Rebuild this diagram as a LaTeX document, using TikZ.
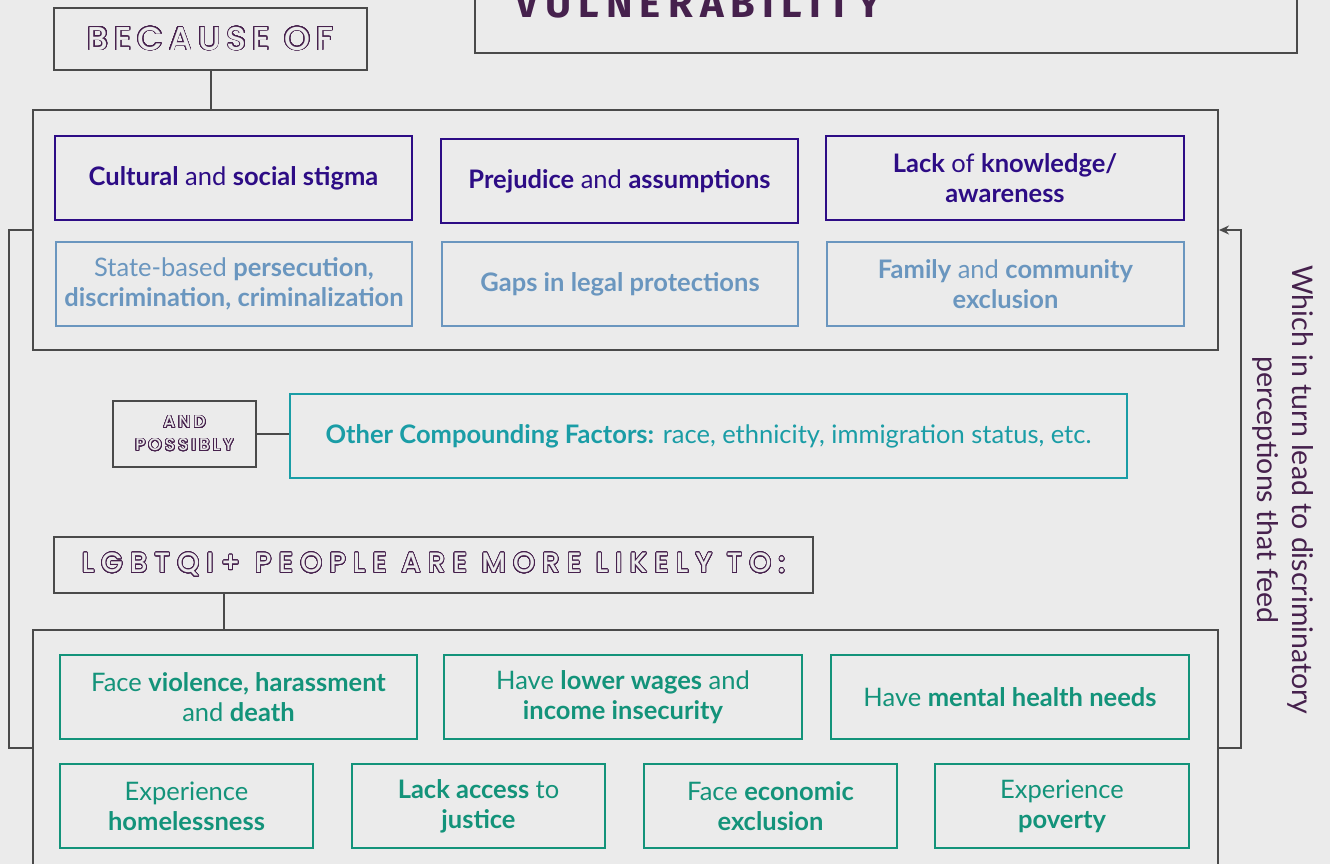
\documentclass[tikz,border=0pt]{standalone}
\usepackage{fontspec}
\setmainfont{Lato}
\newfontfamily\bannerfont[LetterSpace=18,UprightFont=* Medium]{Poppins}
\newfontfamily\widebannerfont[LetterSpace=25,UprightFont=* Medium]{Poppins}
\newfontfamily\headfont[LetterSpace=18]{Fira Sans}
\usepackage[copies]{contour}
\usetikzlibrary{positioning,calc,arrows.meta}

\definecolor{bggray}{HTML}{EBEBEB}
\definecolor{framegray}{HTML}{4A4A4A}
\definecolor{plum}{HTML}{46214D}
\definecolor{indigo}{HTML}{2D0C85}
\definecolor{steel}{HTML}{6A96BF}
\definecolor{teal}{HTML}{1A9DA6}
\definecolor{leaf}{HTML}{13937A}

\contourlength{0.8pt}
\contournumber{32}
\newcommand{\hollow}[1]{{\color{bggray}\contour{plum}{#1}}}

\begin{document}
\begin{tikzpicture}[x=1pt,y=-1pt]
  \tikzstyle{frame}=[draw=framegray,line width=2pt,rectangle,inner sep=0pt]
  \tikzstyle{banner}=[frame,fill=bggray]
  \tikzstyle{card}=[rectangle,line width=1.8pt,minimum width=357pt,minimum height=84pt,
    inner sep=0pt,align=center,font=\fontsize{25.5}{30}\selectfont]
  \tikzstyle{cause}=[card,draw=indigo,text=indigo]
  \tikzstyle{barrier}=[card,draw=steel,text=steel]
  \tikzstyle{outcome}=[card,draw=leaf,text=leaf]
  \tikzstyle{link}=[draw=framegray,line width=2pt]

  \fill[bggray] (0,0) rectangle (1330,864);
  \useasboundingbox (0,0) rectangle (1330,864);

  % top headings
  \node[frame,minimum width=822pt,minimum height=73pt] (vulnbox) at (886,16.5) {};
  \node[anchor=base west,text=plum,font=\headfont\bfseries\fontsize{40}{40}\selectfont,inner sep=0pt]
    (vuln) at (515,18) {VULNERABILITY};
  \node[banner,minimum width=313pt,minimum height=62pt,font=\bannerfont\fontsize{33}{33}\selectfont]
    (because) at (210.5,39) {\hollow{BECAUSE OF}};

  % causes
  \node[frame,minimum width=1185pt,minimum height=240pt] (top) at (625.5,230) {};
  \node[cause] (stigma) at (233.5,178) {\textbf{Cultural} and \textbf{social stigma}};
  \node[cause] (prejudice) at (619.5,181) {\textbf{Prejudice} and \textbf{assumptions}};
  \node[cause,minimum width=358pt] (knowledge) at (1005,178) {\textbf{Lack} of \textbf{knowledge/}\\\textbf{awareness}};
  \node[barrier,minimum width=356pt] (state) at (234,284) {State-based \textbf{persecution,}\\\textbf{discrimination, criminalization}};
  \node[barrier,minimum width=356pt] (gaps) at (620,284) {\textbf{Gaps in legal protections}};
  \node[barrier] (family) at (1005.5,284) {\textbf{Family} and \textbf{community}\\\textbf{exclusion}};

  % compounding factors
  \node[banner,minimum width=143pt,minimum height=66pt,align=center,
    font=\bannerfont\fontsize{17}{23}\selectfont] (possibly) at (184.5,434) {\hollow{AND}\\\hollow{POSSIBLY}};
  \node[card,draw=teal,text=teal,minimum width=837pt] (other) at (708.5,436)
    {\textbf{Other Compounding Factors:} race, ethnicity, immigration status, etc.};

  % outcomes
  \node[banner,minimum width=759pt,minimum height=56pt,font=\widebannerfont\fontsize{28}{28}\selectfont]
    (likely) at (433.5,565) {\hollow{LGBTQI+ PEOPLE ARE MORE LIKELY TO:}};
  \node[frame,minimum width=1185pt,minimum height=270pt] (bottom) at (625.5,765) {};
  \node[outcome] (violence) at (238.5,697) {Face \textbf{violence, harassment}\\and \textbf{death}};
  \node[outcome,minimum width=358pt] (wages) at (623,697) {Have \textbf{lower wages} and\\\textbf{income insecurity}};
  \node[outcome,minimum width=358pt] (mental) at (1010,697) {Have \textbf{mental health needs}};
  \node[outcome,minimum width=253pt] (homeless) at (186.5,806) {Experience\\\textbf{homelessness}};
  \node[outcome,minimum width=253pt] (justice) at (478.5,806) {\textbf{Lack access} to\\\textbf{justice}};
  \node[outcome,minimum width=253pt] (economic) at (770.5,806) {Face \textbf{economic}\\\textbf{exclusion}};
  \node[outcome,minimum width=254pt] (poverty) at (1062,806) {Experience\\\textbf{poverty}};

  % connectors
  \coordinate (lk) at (224,0);
  \coordinate (lp) at (9,748);
  \coordinate (rp) at (1241,748);
  \draw[link] (because.south) -- (because.south |- top.north);
  \draw[link] (possibly.east) -- (possibly.east -| other.west);
  \draw[link] (likely.south -| lk) -- (bottom.north -| lk);
  \draw[link] (top.west) -| (lp) -- (bottom.west |- lp);
  \draw[link,-{Stealth[length=10pt,width=9pt]}] (bottom.east |- lp) -- (rp) |- (top.east);

  \node[rotate=-90,align=center,text=plum,font=\fontsize{28.5}{35}\selectfont] (feed) at (1283,490)
    {Which in turn lead to discriminatory\\perceptions that feed};
\end{tikzpicture}
\end{document}
